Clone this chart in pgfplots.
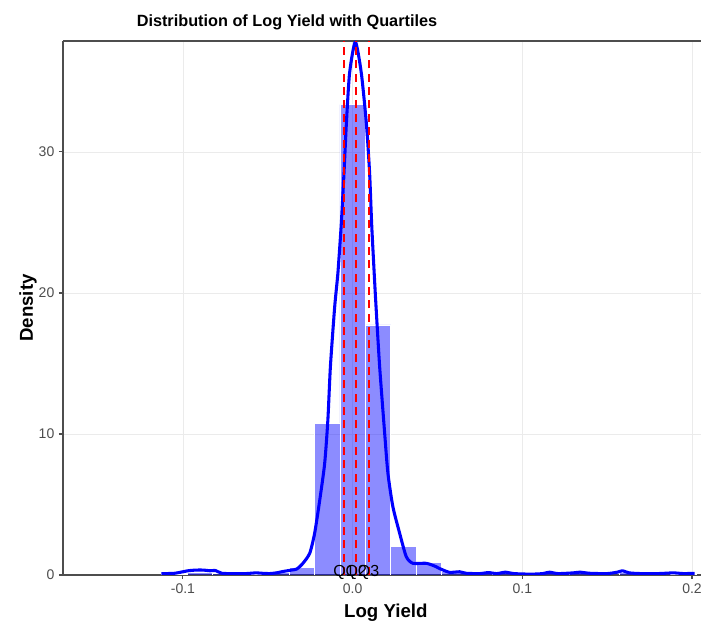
\documentclass[border=0pt]{standalone}
\usepackage{fontspec}
\setmainfont{Liberation Sans}
\usepackage{pgfplots}
\pgfplotsset{compat=1.18}
\usetikzlibrary{calc}

\definecolor{gridgray}{HTML}{EBEBEB}
\definecolor{axisgray}{HTML}{4D4D4D}

\begin{document}
\begin{tikzpicture}
    \begin{axis}[
        name=ax,
        scale only axis,
        width=478.5pt,
        height=400.5pt,
        xmin=-0.1707, xmax=0.2053,
        ymin=0, ymax=37.87,
        xtick={-0.1,0,0.1,0.2},
        xticklabels={-0.1,0.0,0.1,0.2},
        ytick={0,10,20,30},
        yticklabels={0,10,20,30},
        axis x line*=box,
        axis y line*=left,
        xtick pos=bottom,
        ytick pos=left,
        tick align=outside,
        major tick length=3pt,
        every tick/.style={axisgray, line width=0.8pt},
        axis line style={axisgray, line width=0.8pt},
        grid=major,
        grid style={gridgray, line width=0.6pt},
        ticklabel style={font=\fontsize{10.5}{12}\selectfont, text=axisgray},
        clip mode=individual,
    ]

    % histogram, binwidth 0.015
    \addplot[
        ybar,
        bar width=0.015,
        bar shift=0pt,
        fill=blue,
        fill opacity=0.45,
        draw=white,
        line width=0.6pt,
        ]
        coordinates {
        (-0.105,0.05)(-0.09,0.2)(-0.075,0.1)(-0.06,0.05)(-0.045,0.15)
        (-0.03,0.55)(-0.015,10.75)(0,33.35)(0.015,17.73)(0.03,2.0)
        (0.045,0.9)(0.06,0.25)(0.075,0.1)(0.09,0.1)(0.12,0.1)
        (0.135,0.1)(0.165,0.15)(0.195,0.05)
        };

    % density curve
    \addplot[blue, line width=2.3pt, line join=round, smooth, tension=0.4]
        coordinates {
        (-0.1127,0.1)(-0.105,0.12)(-0.097,0.3)(-0.092,0.35)(-0.088,0.35)
        (-0.084,0.3)(-0.081,0.32)(-0.077,0.12)(-0.07,0.1)(-0.063,0.1)
        (-0.057,0.15)(-0.053,0.12)(-0.049,0.1)(-0.045,0.15)(-0.041,0.25)
        (-0.036,0.35)(-0.033,0.42)(-0.0295,0.8)(-0.0253,1.54)(-0.0224,2.96)
        (-0.0194,5.3)(-0.0165,7.9)(-0.0146,11.0)(-0.0131,14.8)(-0.0106,19.0)
        (-0.0087,21.4)(-0.0067,24.9)(-0.0051,28.5)(-0.0037,32.0)(-0.0018,35.6)
        (0.0016,37.8)(0.0051,35.6)(0.0081,32.0)(0.0100,28.5)(0.0112,24.9)
        (0.0127,21.4)(0.0138,19.0)(0.0159,14.8)(0.0189,10.0)(0.0208,7.2)
        (0.0237,4.85)(0.0277,2.96)(0.0316,1.30)(0.0355,0.83)(0.0434,0.83)
        (0.049,0.6)(0.051,0.47)(0.057,0.19)(0.063,0.23)(0.067,0.12)
        (0.075,0.1)(0.08,0.17)(0.085,0.1)(0.09,0.2)(0.095,0.1)
        (0.105,0.06)(0.112,0.1)(0.116,0.2)(0.121,0.1)(0.13,0.15)
        (0.134,0.2)(0.14,0.12)(0.15,0.1)(0.156,0.2)(0.159,0.3)
        (0.163,0.15)(0.17,0.1)(0.18,0.1)(0.189,0.15)(0.195,0.1)
        (0.2015,0.12)
        };

    % quartiles
    \addplot[red, line width=1.6pt, dash pattern=on 6pt off 4pt]
        coordinates {(-0.0051,0)(-0.0051,37.87)};
    \addplot[red, line width=1.6pt, dash pattern=on 6pt off 4pt]
        coordinates {(0.0022,0)(0.0022,37.87)};
    \addplot[red, line width=1.6pt, dash pattern=on 6pt off 4pt]
        coordinates {(0.0094,0)(0.0094,37.87)};

    \node[anchor=base, font=\fontsize{12}{14}\selectfont, yshift=-0.8pt] at (axis cs:-0.0051,0) {Q1};
    \node[anchor=base, font=\fontsize{12}{14}\selectfont, yshift=-0.8pt] at (axis cs:0.0022,0) {Q2};
    \node[anchor=base, font=\fontsize{12}{14}\selectfont, yshift=-0.8pt] at (axis cs:0.0094,0) {Q3};
    \end{axis}

    \node[anchor=base, font=\fontsize{12.2}{14}\bfseries]
        at ($(ax.north west)!0.351!(ax.north east)+(0,10.5pt)$) {Distribution of Log Yield with Quartiles};
    \node[anchor=base, font=\fontsize{14}{16}\bfseries]
        at ($(ax.south west)!0.506!(ax.south east)+(0,-32.25pt)$) {Log Yield};
    \node[anchor=base, rotate=90, font=\fontsize{14}{16}\bfseries]
        at ($(ax.south west)!0.5!(ax.north west)+(-22.5pt,0)$) {Density};

    \pgfresetboundingbox
    \path[use as bounding box] ($(ax.south west)+(-47.25pt,-37.5pt)$) rectangle ($(ax.north east)+(0,30.75pt)$);
\end{tikzpicture}
\end{document}
